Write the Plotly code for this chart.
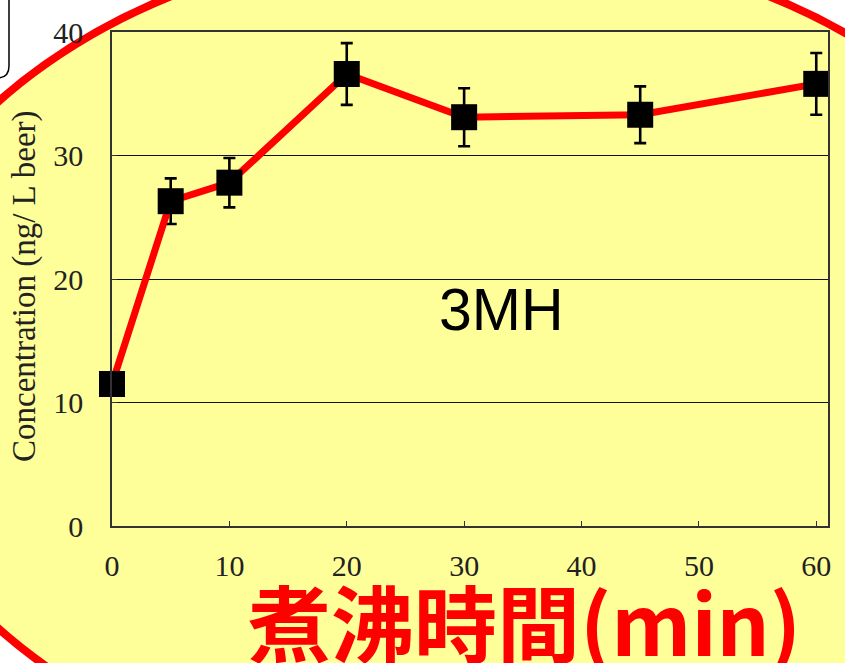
import plotly.graph_objects as go

# Boiling time (min) and 3MH concentration (ng/L beer) with standard deviations
boil_min = [0, 5, 10, 20, 30, 45, 60]
conc_3mh = [11.5, 26.3, 27.8, 36.6, 33.1, 33.3, 35.8]
conc_sd = [0.0, 1.85, 2.0, 2.5, 2.35, 2.3, 2.5]

x_ticks = [0, 10, 20, 30, 40, 50, 60]
y_ticks = [0, 10, 20, 30, 40]

W, H = 845, 663
M_L, M_R, M_T, M_B = 112, 17, 32, 137
PW, PH = W - M_L - M_R, H - M_T - M_B


def px(x):
    """Pixel x -> paper x."""
    return (x - M_L) / PW


def py(y):
    """Pixel y (from top) -> paper y."""
    return (H - M_B - y) / PH


fig = go.Figure()

fig.add_trace(go.Scatter(
    x=boil_min, y=conc_3mh,
    mode="lines+markers",
    line=dict(color="#ff0000", width=7),
    marker=dict(symbol="square", size=26, color="#000000"),
    error_y=dict(type="data", array=conc_sd, visible=True,
                 color="#000000", thickness=2.6, width=6),
    cliponaxis=False,
    showlegend=False,
))

# yellow ellipse with red rim behind the chart
shapes = [
    dict(type="circle", xref="paper", yref="paper", layer="below",
         x0=px(-131), x1=px(1071), y0=py(790), y1=py(-60),
         fillcolor="#ffff99", line=dict(color="#ff0000", width=8)),
]
# rounded white box in the top-left corner
path = "M {:.5f},{:.5f} L {:.5f},{:.5f} L {:.5f},{:.5f} Q {:.5f},{:.5f} {:.5f},{:.5f} L {:.5f},{:.5f} Z".format(
    px(-20), py(-20), px(9), py(-20), px(9), py(66),
    px(9), py(78), px(-3), py(78), px(-20), py(78))
shapes.append(dict(type="path", xref="paper", yref="paper", layer="below",
                   path=path, fillcolor="#ffffff",
                   line=dict(color="#000000", width=1.5)))

serif = "Liberation Serif, Times New Roman, serif"

fig.update_layout(
    width=W, height=H,
    margin=dict(l=M_L, r=M_R, t=M_T, b=M_B, autoexpand=False),
    paper_bgcolor="#ffffff",
    plot_bgcolor="rgba(0,0,0,0)",
    shapes=shapes,
    xaxis=dict(range=[0, 61], tickvals=x_ticks, ticktext=[str(v) for v in x_ticks],
               showgrid=False, zeroline=False,
               showline=True, mirror=True, linecolor="#333333", linewidth=1.5,
               ticks="inside", ticklen=5, tickcolor="#333333", tickwidth=1.3,
               ticklabelstandoff=12,
               tickfont=dict(family=serif, size=30, color="#222222")),
    yaxis=dict(range=[0, 40], tickvals=y_ticks, ticktext=[str(v) for v in y_ticks],
               showgrid=True, gridcolor="#111111", gridwidth=1.4, zeroline=False,
               showline=True, mirror=True, linecolor="#333333", linewidth=1.5,
               ticks="inside", ticklen=5, tickcolor="#333333", tickwidth=1.3,
               ticklabelstandoff=21,
               tickfont=dict(family=serif, size=30, color="#222222")),
    annotations=[
        dict(text="Concentration (ng/ L beer)", xref="paper", yref="paper",
             x=px(24), y=py(286), xanchor="center", yanchor="middle",
             textangle=-90, showarrow=False,
             font=dict(family=serif, size=33, color="#222222")),
        dict(text="<b>煮沸時間(min)</b>", xref="paper", yref="paper",
             x=px(524), y=py(620), xanchor="center", yanchor="middle",
             showarrow=False,
             font=dict(family="Noto Sans CJK JP", size=83, color="#ff0000")),
        dict(text="3MH", xref="x", yref="y", x=33.2, y=17.5,
             xanchor="center", yanchor="middle", showarrow=False,
             font=dict(family="Liberation Sans, Arial, sans-serif", size=59,
                       color="#000000")),
    ],
)

fig.write_html("out.html")
